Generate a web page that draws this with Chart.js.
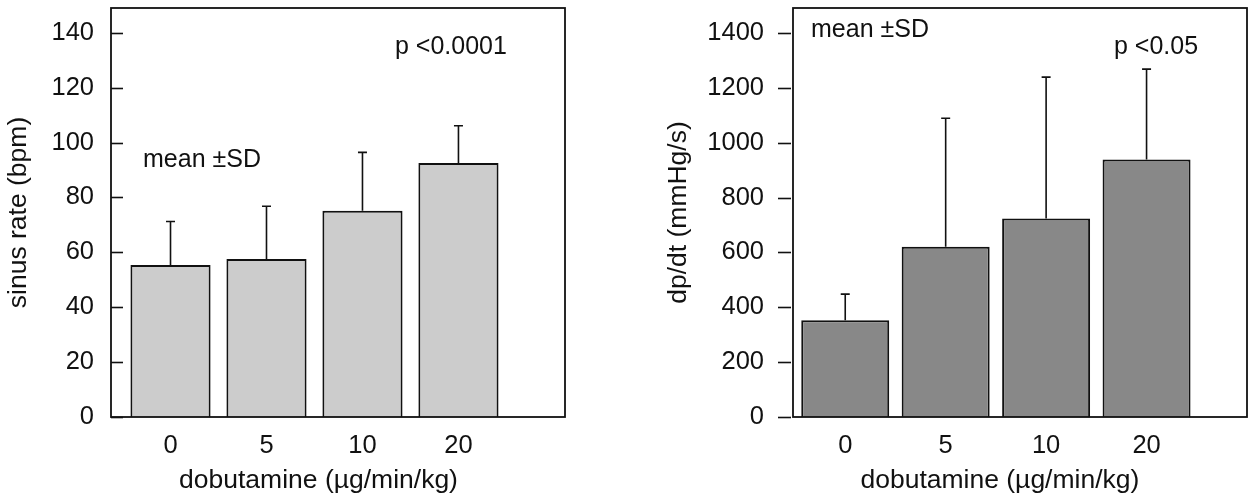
<!DOCTYPE html>
<html>
<head>
<meta charset="utf-8">
<script src="https://cdn.jsdelivr.net/npm/chart.js@4.4.1/dist/chart.umd.min.js"></script>
<style>
  body { margin: 0; background: #fff; }
  canvas { position: absolute; top: 0; }
  #rateChart { left: 0; }
  #dpdtChart { left: 624px; }
</style>
</head>
<body>
<canvas id="rateChart" width="624" height="495"></canvas>
<canvas id="dpdtChart" width="624" height="495"></canvas>
<script>
// dobutamine doses, plotted at positions 1..4
const doses = ['0', '5', '10', '20'];
const xPos = [1, 2, 3, 4];
const xTitle = 'dobutamine (µg/min/kg)';

// sinus rate (bpm), mean and SD
const rateMean = [55.4, 57.6, 75.1, 92.5];
const rateSD = [15.8, 19.2, 21.3, 13.6];
const rateTicks = [0, 20, 40, 60, 80, 100, 120, 140];

// dp/dt (mmHg/s), mean and SD
const dpdtMean = [353, 621, 724, 939];
const dpdtSD = [95, 468, 515, 329];
const dpdtTicks = [0, 200, 400, 600, 800, 1000, 1200, 1400];

const FONT = "'Liberation Sans', Arial, sans-serif";
const INK = '#111111';

function makeChart(id, cfg) {
  // SD whiskers (upper only) + frame + y ticks + the text notes
  const extras = {
    id: 'extras',
    afterDatasetsDraw(chart) {
      const ctx = chart.ctx;
      const area = chart.chartArea;
      const y = chart.scales.y;
      const meta = chart.getDatasetMeta(0);
      ctx.save();
      ctx.strokeStyle = INK;
      ctx.lineWidth = 1.6;
      meta.data.forEach((bar, i) => {
        const top = y.getPixelForValue(cfg.mean[i] + cfg.sd[i]);
        ctx.beginPath();
        ctx.moveTo(bar.x, bar.y);
        ctx.lineTo(bar.x, top);
        ctx.moveTo(bar.x - 4.5, top);
        ctx.lineTo(bar.x + 4.5, top);
        ctx.stroke();
      });

      ctx.lineWidth = 1.8;
      ctx.strokeRect(area.left, area.top, area.right - area.left, area.bottom - area.top);

      ctx.lineWidth = 1.6;
      y.ticks.forEach(t => {
        const py = Math.round(y.getPixelForValue(t.value)) + 0.5;
        ctx.beginPath();
        if (cfg.tickIn) {
          ctx.moveTo(area.left, py);
          ctx.lineTo(area.left + 12, py);
        } else {
          ctx.moveTo(area.left - 15, py);
          ctx.lineTo(area.left - 2, py);
        }
        ctx.stroke();
      });

      ctx.fillStyle = INK;
      ctx.font = '25px ' + FONT;
      ctx.textAlign = 'left';
      ctx.textBaseline = 'alphabetic';
      cfg.notes.forEach(n => ctx.fillText(n.text, area.left + n.dx, n.y));

      // x title sits under the bar group, not the whole frame
      const first = meta.data[0], last = meta.data[meta.data.length - 1];
      const cx = (first.x - first.width / 2 + last.x + last.width / 2) / 2 + 4;
      ctx.font = '26.5px ' + FONT;
      ctx.textAlign = 'center';
      ctx.fillText(xTitle, cx, 488);
      ctx.restore();
    }
  };

  return new Chart(document.getElementById(id), {
    type: 'bar',
    data: {
      datasets: [{
        data: xPos.map((x, i) => ({ x: x, y: cfg.mean[i] })),
        backgroundColor: cfg.fill,
        borderColor: INK,
        borderWidth: 2,
        categoryPercentage: 1,
        barPercentage: cfg.barPct
      }]
    },
    options: {
      responsive: false,
      animation: false,
      layout: { padding: { top: 8, right: cfg.padRight, bottom: 0, left: 0 } },
      plugins: { legend: { display: false }, tooltip: { enabled: false } },
      scales: {
        x: {
          type: 'linear',
          offset: false,
          min: cfg.xMin,
          max: cfg.xMax,
          grid: { display: false },
          border: { display: false },
          afterBuildTicks: s => { s.ticks = xPos.map(v => ({ value: v })); },
          afterFit: s => { s.height = 78; s.paddingLeft = 0; s.paddingRight = 0; },
          ticks: {
            padding: 6,
            color: INK,
            font: { family: FONT, size: 25.5 },
            callback: (v) => doses[xPos.indexOf(v)]
          }
        },
        y: {
          min: 0,
          max: cfg.yMax,
          grid: { display: false },
          border: { display: false },
          afterBuildTicks: s => { s.ticks = cfg.ticks.map(v => ({ value: v })); },
          afterFit: s => { s.width = cfg.axisWidth; s.paddingTop = 0; s.paddingBottom = 0; },
          ticks: {
            padding: cfg.labelPad,
            color: INK,
            font: { family: FONT, size: 25.5 },
            callback: (v) => String(v)
          },
          title: {
            display: true,
            text: cfg.yTitle,
            color: INK,
            font: { family: FONT, size: 26.5 },
            padding: { top: cfg.titlePad, bottom: 0 }
          }
        }
      }
    },
    plugins: [extras]
  });
}

makeChart('rateChart', {
  mean: rateMean, sd: rateSD, ticks: rateTicks,
  fill: '#cccccc', barPct: 0.835,
  xMin: 0.38, xMax: 5.11, yMax: 149,
  axisWidth: 111, padRight: 59, labelPad: 9, titlePad: 3,
  tickIn: true,
  yTitle: 'sinus rate (bpm)',
  notes: [
    { text: 'mean ±SD', dx: 32, y: 167 },
    { text: 'p <0.0001', dx: 284, y: 54 }
  ]
});

makeChart('dpdtChart', {
  mean: dpdtMean, sd: dpdtSD, ticks: dpdtTicks,
  fill: '#888888', barPct: 0.876,
  xMin: 0.48, xMax: 5.0, yMax: 1491,
  axisWidth: 169, padRight: 1, labelPad: 21, titlePad: 39,
  tickIn: false,
  yTitle: 'dp/dt (mmHg/s)',
  notes: [
    { text: 'mean ±SD', dx: 18, y: 37 },
    { text: 'p <0.05', dx: 321, y: 54 }
  ]
});
</script>
</body>
</html>
